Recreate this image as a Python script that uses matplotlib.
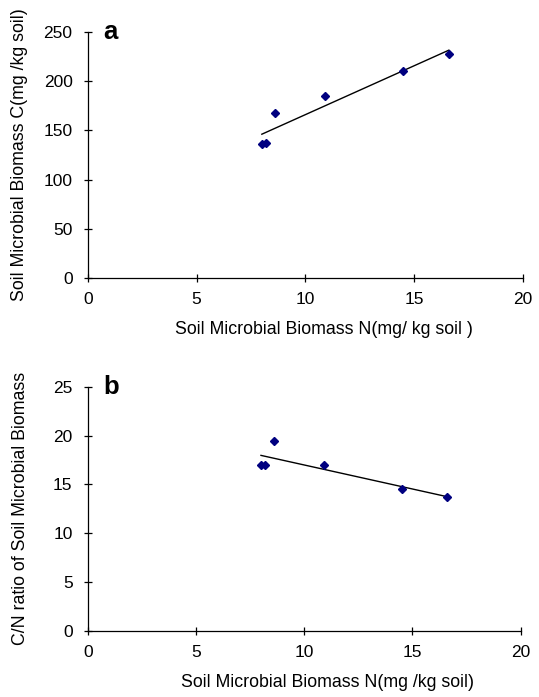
import matplotlib.pyplot as plt
import numpy as np

plt.rcParams['font.family'] = ['Liberation Sans', 'DejaVu Sans']

# data
biomass_n = [8.0, 8.2, 8.6, 10.9, 14.5, 16.6]
biomass_c = [136, 137, 168, 185, 210, 228]
cn_ratio = [17.0, 17.0, 19.4, 17.0, 14.5, 13.7]

fig = plt.figure(figsize=(5.39, 6.97), dpi=100)
ax_a = fig.add_axes([0.163, 0.601, 0.807, 0.353])
ax_b = fig.add_axes([0.163, 0.095, 0.803, 0.350])


def draw_panel(ax, x, y, ylim, yticks, ylabel, xlabel, letter, xlab_x):
    x = np.array(x)
    y = np.array(y)
    coef = np.polyfit(x, y, 1)
    xs = np.array([x.min(), x.max()])
    ax.plot(xs, np.polyval(coef, xs), color='black', lw=1.0, zorder=2)
    ax.plot(x, y, linestyle='none', marker='D', markersize=4.5,
            color='#000080', zorder=3)
    ax.set_xlim(0, 20)
    ax.set_ylim(*ylim)
    ax.set_xticks([0, 5, 10, 15, 20])
    ax.set_yticks(yticks)
    for s in ['top', 'right']:
        ax.spines[s].set_visible(False)
    for s in ['left', 'bottom']:
        ax.spines[s].set_linewidth(0.9)
    ax.tick_params(direction='inout', length=6, width=0.9, labelsize=12.5)
    ax.tick_params(axis='y', pad=8)
    ax.tick_params(axis='x', pad=7)
    ax.set_xlabel(xlabel, fontsize=12.8, labelpad=10)
    ax.xaxis.label.set_x(xlab_x)
    ax.set_ylabel(ylabel, fontsize=12.8)
    ax.yaxis.set_label_coords(-0.137, 0.5)
    ax.text(0.035, 1.05, letter, transform=ax.transAxes, fontsize=18.5,
            fontweight='bold', va='top', ha='left')


draw_panel(ax_a, biomass_n, biomass_c, (0, 250), [0, 50, 100, 150, 200, 250],
           'Soil Microbial Biomass C(mg /kg soil)',
           'Soil Microbial Biomass N(mg/ kg soil )', 'a', 0.542)
draw_panel(ax_b, biomass_n, cn_ratio, (0, 25), [0, 5, 10, 15, 20, 25],
           'C/N ratio of Soil Microbial Biomass',
           'Soil Microbial Biomass N(mg /kg soil)', 'b', 0.553)

plt.savefig('out.png', dpi=100)
